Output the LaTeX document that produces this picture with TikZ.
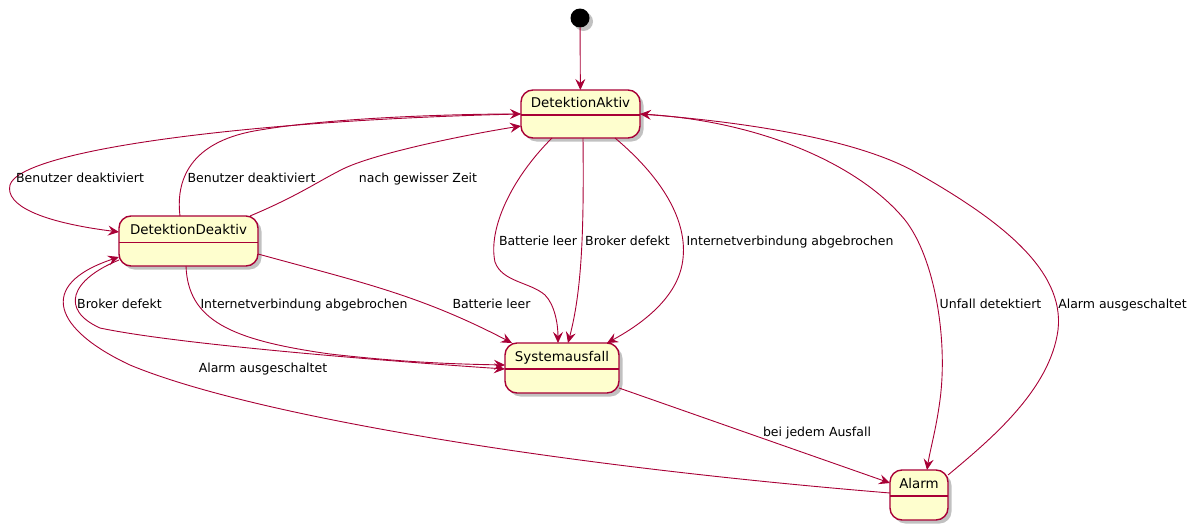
\documentclass[tikz,border=0pt]{standalone}
\usepackage{fontspec}
\setmainfont{DejaVu Sans}
\usetikzlibrary{arrows.meta,shadows}
\definecolor{umlred}{HTML}{A80036}
\definecolor{umlfill}{HTML}{FEFECE}
\begin{document}
\begin{tikzpicture}[x=1pt,y=-1pt,
  umlshadow/.style={drop shadow={shadow xshift=3.5pt,shadow yshift=-3.5pt,opacity=0.3,fill=black!80}},
  statebox/.style={draw=umlred, line width=1.4pt, fill=umlfill, rounded corners=12pt,
    inner sep=0pt, outer sep=0pt, umlshadow},
  statename/.style={font=\fontsize{13.4}{16}\selectfont, anchor=base, inner sep=0pt},
  divline/.style={draw=umlred, line width=1.4pt},
  trans/.style={draw=umlred, line width=0.9pt, -{Stealth[length=11pt,width=10pt,inset=4pt]}},
  lbl/.style={font=\fontsize{12.5}{15}\selectfont, anchor=base, inner sep=0pt},
]
\useasboundingbox (0,0) rectangle (1200,530);

% states
\node[circle, fill=black, minimum size=19pt, inner sep=0pt, outer sep=0pt, umlshadow] (init) at (580,18) {};
\node[statebox, minimum width=119pt, minimum height=48pt] (Ak) at (580.5,114) {};
\node[statebox, minimum width=139pt, minimum height=50pt] (Dd) at (188.5,241) {};
\node[statebox, minimum width=114pt, minimum height=50pt] (Sy) at (562,368) {};
\node[statebox, minimum width=58pt, minimum height=50pt] (Al) at (919,495) {};

\draw[divline] ([yshift=-25pt]Ak.north west) -- ([yshift=-25pt]Ak.north east);
\draw[divline] ([yshift=-26.5pt]Dd.north west) -- ([yshift=-26.5pt]Dd.north east);
\draw[divline] ([yshift=-26pt]Sy.north west) -- ([yshift=-26pt]Sy.north east);
\draw[divline] ([yshift=-26pt]Al.north west) -- ([yshift=-26pt]Al.north east);

\node[statename] (Akn) at ([yshift=-17.5pt]Ak.north) {DetektionAktiv};
\node[statename] (Ddn) at ([yshift=-18.5pt]Dd.north) {DetektionDeaktiv};
\node[statename] (Syn) at ([yshift=-18pt]Sy.north) {Systemausfall};
\node[statename] (Aln) at ([yshift=-18pt]Al.north) {Alarm};

% transitions
\draw[trans] (init) -- (Ak);

\draw[trans] (Ak.west) .. controls (250,120) and (20,150) .. (10,185)
  .. controls (5,205) and (40,222) .. ([yshift=9pt]Dd.west);
\draw[trans] ([xshift=-8.5pt]Dd.north) .. controls (175,175) and (195,140) .. (260,130)
  .. controls (330,118) and (450,114) .. (Ak.west);
\draw[trans] ([xshift=61.5pt]Dd.north) .. controls (300,195) and (320,180) .. (345,168)
  .. controls (380,152) and (470,134) .. ([yshift=-12pt]Ak.west);

\draw[trans] ([xshift=-28.5pt]Ak.south) .. controls (510,180) and (488,230) .. (495,262)
  .. controls (502,282) and (530,282) .. (545,295)
  .. controls (555,305) and (558,325) .. ([xshift=-4pt]Sy.north);
\draw[trans] ([xshift=2.5pt]Ak.south) .. controls (584,230) and (582,290) .. ([xshift=6pt]Sy.north);
\draw[trans] ([xshift=34.5pt]Ak.south) .. controls (665,180) and (690,225) .. (682,265)
  .. controls (675,300) and (640,325) .. ([xshift=45pt]Sy.north);

\draw[trans] ([yshift=-13pt]Dd.east) .. controls (360,282) and (420,295) .. ([xshift=7pt]Sy.north west);
\draw[trans] ([xshift=-2.5pt]Dd.south) .. controls (188,320) and (230,340) .. (330,354)
  .. controls (400,362) and (450,364) .. ([yshift=3pt]Sy.west);
\draw[trans] ([yshift=6pt]Dd.south west) .. controls (70,280) and (60,310) .. (100,328)
  .. controls (180,345) and (400,362) .. ([yshift=-1pt]Sy.west);

\draw[trans] ([yshift=-20pt]Sy.east) -- ([yshift=12pt]Al.west);
\draw[trans] ([yshift=2pt]Al.west) .. controls (550,465) and (250,415) .. (130,365)
  .. controls (55,330) and (35,285) .. ([yshift=-16pt]Dd.west);

\draw[trans] (Ak.east) .. controls (760,120) and (860,165) .. (905,220)
  .. controls (935,258) and (948,340) .. (940,400)
  .. controls (936,430) and (930,450) .. ([xshift=8pt]Al.north);
\draw[trans] ([yshift=-5pt]Al.north east) .. controls (990,440) and (1050,390) .. (1058,330)
  .. controls (1065,270) and (1000,220) .. (917,173)
  .. controls (851,135) and (720,120) .. (Ak.east);

% labels
\node[lbl] (l1) at (80,182.5) {Benutzer deaktiviert};
\node[lbl] (l2) at (251.5,182.5) {Benutzer deaktiviert};
\node[lbl] (l3) at (418,182.5) {nach gewisser Zeit};
\node[lbl] (l4) at (538,245.5) {Batterie leer};
\node[lbl] (l5) at (627.5,245.5) {Broker defekt};
\node[lbl] (l6) at (790,245.5) {Internetverbindung abgebrochen};
\node[lbl] (l7) at (491.5,308.5) {Batterie leer};
\node[lbl] (l8) at (304,308.5) {Internetverbindung abgebrochen};
\node[lbl] (l9) at (119.5,308.5) {Broker defekt};
\node[lbl] (l10) at (263,372.5) {Alarm ausgeschaltet};
\node[lbl] (l11) at (817,436.5) {bei jedem Ausfall};
\node[lbl] (l12) at (990.5,308.5) {Unfall detektiert};
\node[lbl] (l13) at (1122.5,308.5) {Alarm ausgeschaltet};
\end{tikzpicture}
\end{document}
